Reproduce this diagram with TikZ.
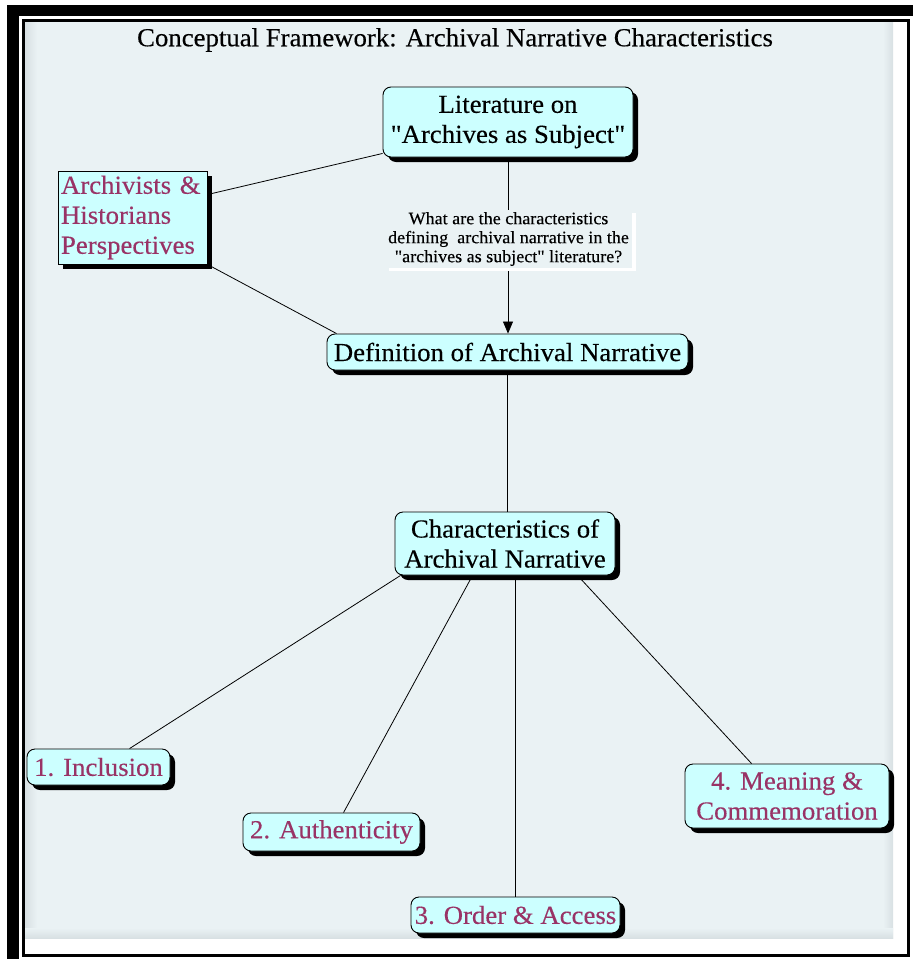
\documentclass[tikz,border=0pt]{standalone}
\usepackage{fontspec}
\setmainfont{Liberation Serif}[Ligatures=TeXOff, FakeStretch=1.03, FakeBold=0.3]
\usetikzlibrary{shadows,calc,arrows.meta}
\definecolor{panelbg}{HTML}{EAF2F4}
\definecolor{paneledge}{HTML}{D8E0E3}
\definecolor{nodefill}{HTML}{CCFFFF}
\definecolor{leaftext}{HTML}{993366}
\pgfdeclarelayer{back}
\pgfdeclarelayer{lines}
\pgfsetlayers{back,lines,main}
\tikzset{
  conc/.style={draw=black, line width=0.9, fill=nodefill, rounded corners=8,
    align=center, inner sep=0, font=\fontsize{26}{30}\selectfont,
    drop shadow={shadow xshift=5pt, shadow yshift=-5pt, fill=black, opacity=1}},
  leaf/.style={conc, text=leaftext},
  qlabel/.style={fill=panelbg, align=center, inner sep=0,
    font=\fontsize{17.5}{19}\selectfont,
    drop shadow={shadow xshift=4pt, shadow yshift=-3pt, fill=white, opacity=1}},
  link/.style={draw=black, line width=0.8},
}
\begin{document}
\begin{tikzpicture}[x=1pt,y=-1pt]
\useasboundingbox (0,0) rectangle (913,959);
\begin{pgfonlayer}{back}
  % page frame
  \fill[white] (0,0) rectangle (913,959);
  \fill[black] (7,5) rectangle (913,16);
  \fill[black] (7,5) rectangle (19,959);
  \draw[black, line width=3] (23.5,20.5) rectangle (908.5,955.5);
  % drawing panel with softened edges
  \fill[panelbg] (25,22) rectangle (893,938);
  \shade[left color=paneledge, right color=panelbg] (25,22) rectangle (37,938);
  \shade[left color=panelbg, right color=paneledge] (883,22) rectangle (893,938);
  \shade[top color=panelbg, bottom color=paneledge] (25,928) rectangle (893,938);
\end{pgfonlayer}

\node[font=\fontsize{26}{30}\selectfont] (title) at (455,40)
  {Conceptual Framework: Archival Narrative Characteristics};

\node[conc, minimum width=250, minimum height=70] (lit) at (508,122)
  {Literature on\\"Archives as Subject"};
\node[conc, rounded corners=0, align=left, text=leaftext, inner xsep=3,
  text width=143, minimum height=93] (arch) at (132.5,217.5)
  {Archivists \&\\Historians\\Perspectives};
\node[conc, minimum width=361, minimum height=36] (def) at (507.5,352)
  {Definition of Archival Narrative};
\node[conc, minimum width=220, minimum height=63] (char) at (505,543.5)
  {Characteristics of\\Archival Narrative};

\node[leaf, minimum width=143, minimum height=36] (inc) at (98.5,767) {1. Inclusion};
\node[leaf, minimum width=177, minimum height=38] (auth) at (331.5,832) {2. Authenticity};
\node[leaf, minimum width=209, minimum height=36] (ord) at (515.5,915) {3. Order \& Access};
\node[leaf, minimum width=204, minimum height=64] (mean) at (787,796)
  {4. Meaning \&\\Commemoration};

\node[qlabel, minimum width=247, minimum height=58] (q) at (508.5,239)
  {What are the characteristics\\defining\ \ archival narrative in the\\"archives as subject" literature?};

\begin{pgfonlayer}{lines}
  \draw[link, -{Triangle[width=10pt,length=12pt]}] (lit.south) -- (lit.south |- def.north);
  \draw[link] ($(arch.north east)+(0,24)$) -- ($(lit.south west)+(0,-4)$);
  \draw[link] (arch.south east) -- ($(def.north west)+(10,0)$);
  \draw[link] (def.south) -- (def.south |- char.north);
  \draw[link] ($(char.south west)+(6,0)$) -- ($(inc.north west)+(103,0)$);
  \draw[link] ($(char.south west)+(78,0)$) -- ($(auth.north west)+(101,0)$);
  \draw[link] ($(char.south west)+(121,0)$) -- ($(ord.north west)+(105,0)$);
  \draw[link] ($(char.south west)+(183,0)$) -- ($(mean.north west)+(67,0)$);
\end{pgfonlayer}
\end{tikzpicture}
\end{document}
